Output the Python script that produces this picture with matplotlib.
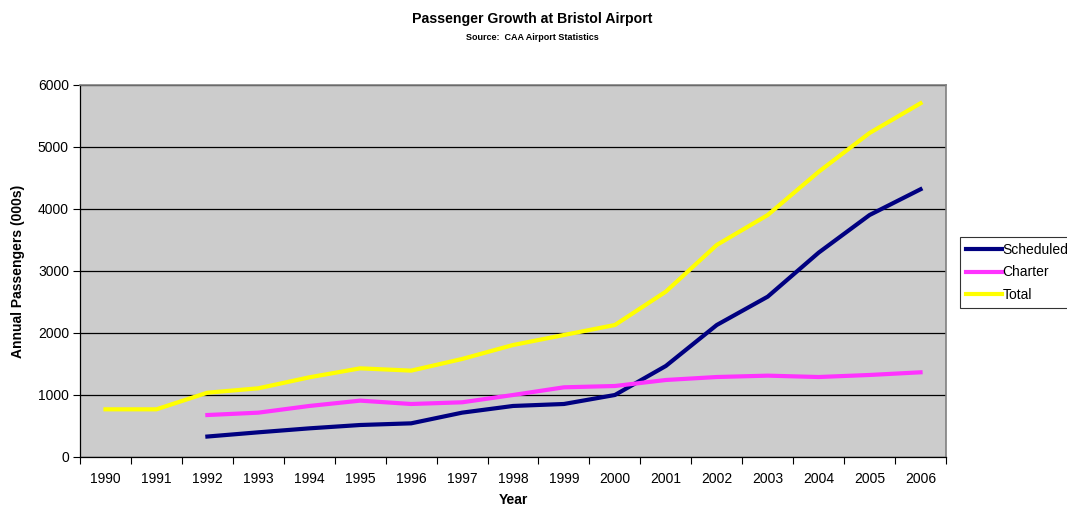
import numpy as np
import matplotlib
matplotlib.use("Agg")
import matplotlib.pyplot as plt
from matplotlib.ticker import FixedLocator

plt.rcParams['font.family'] = ['Liberation Sans', 'DejaVu Sans']

years = ['1990', '1991', '1992', '1993', '1994', '1995', '1996', '1997', '1998',
         '1999', '2000', '2001', '2002', '2003', '2004', '2005', '2006']
scheduled = [np.nan, np.nan, 330, 398, 462, 516, 543, 715, 823, 855, 1000, 1468,
             2129, 2586, 3296, 3903, 4318]
charter = [np.nan, np.nan, 677, 715, 823, 909, 855, 882, 1000, 1124, 1145, 1242,
           1290, 1312, 1290, 1323, 1366]
total = [769, 769, 1037, 1108, 1285, 1430, 1393, 1581, 1806, 1968, 2129, 2667,
         3420, 3903, 4600, 5226, 5705]

fig = plt.figure(figsize=(10.67, 5.08), dpi=100)
ax = fig.add_axes([0.075, 0.1004, 0.8116, 0.7323])
ax.set_facecolor('#CCCCCC')

x = np.arange(len(years))
ax.plot(x, scheduled, color='#000080', lw=3.0, label='Scheduled')
ax.plot(x, charter, color='#FF33FF', lw=3.0, label='Charter')
ax.plot(x, total, color='#FFFF00', lw=3.0, label='Total')

ax.set_xlim(-0.5, len(years) - 0.5)
ax.set_ylim(0, 6000)
ax.set_yticks(range(0, 6001, 1000))
ax.yaxis.grid(True, color='black', lw=0.9)
ax.set_axisbelow(True)

ax.set_xticks(x)
ax.set_xticklabels(years)
ax.xaxis.set_minor_locator(FixedLocator(np.arange(-0.5, len(years), 1.0)))
ax.tick_params(axis='x', which='major', length=0, pad=10.5, labelsize=10)
ax.tick_params(axis='x', which='minor', length=5, width=0.8, direction='out')
ax.tick_params(axis='y', length=5, width=0.8, direction='out', labelsize=10, pad=3)

for s in ['top', 'right']:
    ax.spines[s].set_color('#808080')
    ax.spines[s].set_linewidth(1.2)
for s in ['left', 'bottom']:
    ax.spines[s].set_color('black')
    ax.spines[s].set_linewidth(0.9)

ax.set_ylabel('Annual Passengers (000s)', fontsize=10, fontweight='bold', labelpad=9)
ax.set_xlabel('Year', fontsize=10, fontweight='bold', labelpad=5)

fig.text(0.4986, 0.963, 'Passenger Growth at Bristol Airport', ha='center', va='center',
         fontsize=10.2, fontweight='bold')
fig.text(0.4986, 0.927, 'Source:  CAA Airport Statistics', ha='center', va='center',
         fontsize=6.5, fontweight='bold')

leg = fig.legend(loc='upper left', bbox_to_anchor=(0.9, 0.533), frameon=True,
                 fancybox=False, edgecolor='black', fontsize=10, handlelength=2.6,
                 handletextpad=0.05, borderpad=0.4, labelspacing=0.62, borderaxespad=0)
leg.get_frame().set_linewidth(0.8)

fig.savefig('out.png', dpi=100)
